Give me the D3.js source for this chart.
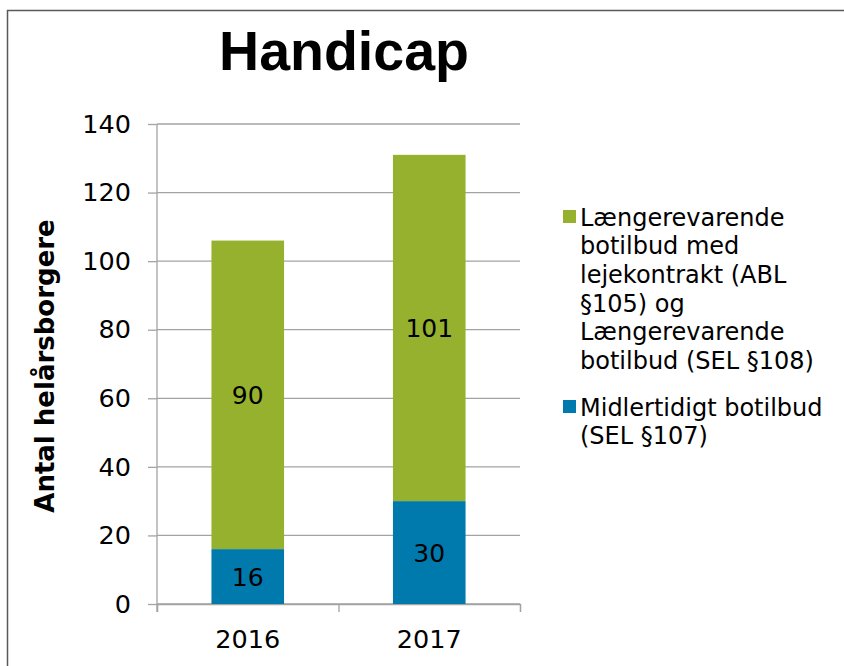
<!DOCTYPE html>
<html>
<head>
  <meta charset="utf-8">
  <title>Handicap</title>
  <style>
    body { margin: 0; background: #fff; }
    svg { display: block; }
    .tick text { font-family: "DejaVu Sans", Verdana, sans-serif; font-size: 25.5px; fill: #000; }
    .legend text { font-family: "DejaVu Sans", Verdana, sans-serif; font-size: 24px; fill: #000; }
  </style>
</head>
<body>
  <svg id="chart" width="844" height="666"></svg>
  <script src="https://d3js.org/d3.v7.min.js"></script>
  <script>
    // chart data
    const years = ["2016", "2017"];
    const midlertidigt = [16, 30];
    const laengerevarende = [90, 101];
    const yTicks = [0, 20, 40, 60, 80, 100, 120, 140];
    const seriesNames = [
      ["Længerevarende", "botilbud med", "lejekontrakt (ABL", "§105) og", "Længerevarende", "botilbud (SEL §108)"],
      ["Midlertidigt botilbud", "(SEL §107)"]
    ];
    const seriesColors = ["#95b12e", "#0079ad"];

    const svg = d3.select("#chart");
    const plot = { left: 157, right: 520, top: 124, bottom: 604 };

    // frame round the whole chart
    svg.append("rect")
      .attr("x", 7.5).attr("y", 10.5)
      .attr("width", 900).attr("height", 700)
      .attr("fill", "none")
      .attr("stroke", "#5a5a5a")
      .attr("stroke-width", 1.5);

    svg.append("text")
      .attr("x", 344).attr("y", 70)
      .attr("text-anchor", "middle")
      .style("font-family", "Liberation Sans, Arial, sans-serif")
      .style("font-weight", "bold")
      .style("font-size", "55.5px")
      .text("Handicap");

    const y = d3.scaleLinear().domain([0, 140]).range([plot.bottom, plot.top]);
    const x = d3.scaleBand().domain(years).range([plot.left, plot.right]).paddingInner(0.6).paddingOuter(0.3);
    const xEdge = d3.scaleLinear().domain([0, years.length]).range([plot.left, plot.right]);

    // gridlines
    svg.append("g")
      .selectAll("line")
      .data(yTicks)
      .enter()
      .append("line")
      .attr("x1", plot.left).attr("x2", plot.right)
      .attr("y1", d => y(d)).attr("y2", d => y(d))
      .attr("stroke", "#a3a3a3")
      .attr("stroke-width", 1.3);

    // y axis
    const yAxis = svg.append("g")
      .attr("transform", `translate(${plot.left},0)`)
      .call(d3.axisLeft(y).tickValues(yTicks).tickSize(9).tickPadding(17));
    yAxis.select(".domain").remove();
    yAxis.selectAll(".tick line").attr("stroke", "#a3a3a3").attr("stroke-width", 1.3);
    svg.append("line")
      .attr("x1", plot.left).attr("x2", plot.left)
      .attr("y1", plot.top).attr("y2", plot.bottom + 8)
      .attr("stroke", "#a3a3a3").attr("stroke-width", 1.3);

    // x axis: tick marks on category edges, labels in the middle
    const xTicks = svg.append("g")
      .attr("transform", `translate(0,${plot.bottom})`)
      .call(d3.axisBottom(xEdge).tickValues(d3.range(years.length + 1)).tickFormat("").tickSize(8));
    xTicks.select(".domain").attr("stroke", "#a3a3a3").attr("stroke-width", 1.3);
    xTicks.selectAll(".tick line").attr("stroke", "#a3a3a3").attr("stroke-width", 1.3);

    const xLabels = svg.append("g")
      .attr("transform", `translate(0,${plot.bottom})`)
      .call(d3.axisBottom(x).tickSize(0).tickPadding(26));
    xLabels.select(".domain").remove();

    // stacked bars
    const stackData = years.map((yr, i) => ({ year: yr, mid: midlertidigt[i], lang: laengerevarende[i] }));
    const stacked = d3.stack().keys(["lang", "mid"]).order(d3.stackOrderReverse)(stackData);
    const colorOf = { lang: seriesColors[0], mid: seriesColors[1] };

    const layers = svg.append("g")
      .selectAll("g")
      .data(stacked)
      .enter()
      .append("g")
      .attr("fill", d => colorOf[d.key]);

    layers.selectAll("rect")
      .data(d => d)
      .enter()
      .append("rect")
      .attr("x", d => x(d.data.year))
      .attr("width", x.bandwidth())
      .attr("y", d => y(d[1]))
      .attr("height", d => y(d[0]) - y(d[1]));

    layers.selectAll("text")
      .data(d => d)
      .enter()
      .append("text")
      .attr("x", d => x(d.data.year) + x.bandwidth() / 2)
      .attr("y", d => y((d[0] + d[1]) / 2))
      .attr("dy", "0.36em")
      .attr("text-anchor", "middle")
      .style("font-family", "DejaVu Sans, Verdana, sans-serif")
      .style("font-size", "25px")
      .attr("fill", "#000")
      .text(d => d[1] - d[0]);

    // y axis title
    svg.append("text")
      .attr("transform", "translate(45,366) rotate(-90)")
      .attr("text-anchor", "middle")
      .attr("dy", "0.36em")
      .style("font-family", "DejaVu Sans, Verdana, sans-serif")
      .style("font-weight", "bold")
      .style("font-size", "26px")
      .text("Antal helårsborgere");

    // legend
    const legend = svg.append("g").attr("class", "legend");
    const lineH = 28.7;
    const entryY = [217, 407];
    seriesNames.forEach((lines, i) => {
      legend.append("rect")
        .attr("x", 563).attr("y", entryY[i] - 7)
        .attr("width", 13).attr("height", 13)
        .attr("fill", seriesColors[i]);
      const t = legend.append("text");
      lines.forEach((ln, j) => {
        t.append("tspan")
          .attr("x", 580)
          .attr("y", entryY[i] + j * lineH)
          .attr("dy", "0.36em")
          .text(ln);
      });
    });
  </script>
</body>
</html>
